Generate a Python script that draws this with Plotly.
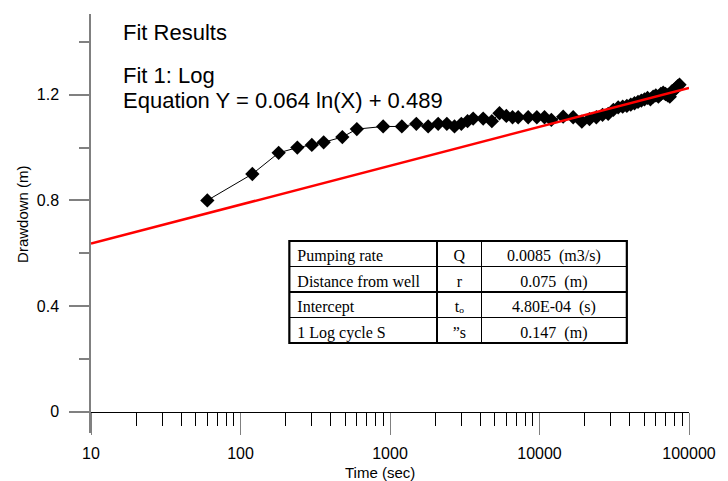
import numpy as np
import plotly.graph_objects as go

# ---------------- data ----------------
time_s = [60, 120, 180, 240, 300, 360, 480, 600, 900, 1200, 1500, 1800, 2100, 2400,
          2700, 3000, 3300, 3600, 4200, 4800, 5400, 6000, 6600, 7200, 8400, 9600,
          10800, 12000, 14400, 16800, 19200, 21600, 24000, 26400, 28800, 31200,
          33600, 36000, 38400, 40800, 43200, 45600, 48000, 50400, 52800, 55200,
          57600, 60000, 62400, 64800, 67200, 69600, 72000, 74400, 76800, 79200,
          81600, 84000, 86400]
drawdown_m = [0.80, 0.90, 0.98, 1.00, 1.01, 1.02, 1.04, 1.07, 1.08, 1.08, 1.09, 1.08,
              1.09, 1.09, 1.08, 1.09, 1.10, 1.11, 1.11, 1.10, 1.13, 1.12, 1.115, 1.115,
              1.115, 1.115, 1.115, 1.105, 1.117, 1.115, 1.098, 1.108, 1.115, 1.124,
              1.128, 1.143, 1.152, 1.155, 1.158, 1.163, 1.168, 1.173, 1.178, 1.183,
              1.188, 1.183, 1.193, 1.198, 1.193, 1.203, 1.208, 1.203, 1.198, 1.193,
              1.213, 1.218, 1.223, 1.233, 1.238]

fit_slope = 0.064       # Y = 0.064 ln(X) + 0.489
fit_intercept = 0.489
fit_xmin, fit_xmax = 10, 100000

x_major = [10, 100, 1000, 10000, 100000]
x_major_text = ["10", "100", "1000", "10000", "100000"]
y_major = [0, 0.4, 0.8, 1.2]
y_major_text = ["0", "0.4", "0.8", "1.2"]
y_minor = [0.2, 0.6, 1.0, 1.4]

table_param = ["Pumping rate", "Distance from well", "Intercept", "1 Log cycle S"]
table_symbol = ["Q", "r", "t\u2092", "\u201ds"]
table_value = ["0.0085  (m3/s)", "0.075  (m)", "4.80E-04  (s)", "0.147  (m)"]

title_lines = ["Fit Results", "Fit 1: Log", "Equation Y = 0.064 ln(X) + 0.489"]
x_title = "Time (sec)"
y_title = "Drawdown (m)"

# ---------------- figure ----------------
W, H = 728, 481
ML, MR, MT, MB = 91, 31, 14, 48
YR = [-0.081, 1.506]
SANS = "Arial, Liberation Sans, sans-serif"
SERIF = "Times New Roman, Liberation Serif, serif"

fig = go.Figure()

fig.add_trace(go.Scatter(
    x=time_s, y=drawdown_m, mode="lines+markers",
    line=dict(color="black", width=1),
    marker=dict(symbol="diamond", size=11, color="black"),
    showlegend=False, hoverinfo="skip"))

fit_x = np.logspace(np.log10(fit_xmin), np.log10(fit_xmax), 60)
fit_y = fit_slope * np.log(fit_x) + fit_intercept
fig.add_trace(go.Scatter(
    x=fit_x, y=fit_y, mode="lines",
    line=dict(color="#ff0000", width=2.5),
    showlegend=False, hoverinfo="skip"))

pw = W - ML - MR
ph = H - MT - MB
def px_x(p):
    return (p - ML) / pw
def px_y(p):
    return (H - MB - p) / ph

T_L, T_R, T_T, T_B = 292, 634, 241, 343
tfont = dict(family=SERIF, size=16, color="black")
fig.add_trace(go.Table(
    domain=dict(x=[px_x(T_L), px_x(T_R)], y=[px_y(T_B + 2), px_y(T_T)]),
    columnwidth=[150, 45, 147],
    header=dict(values=[table_param[0], table_symbol[0], table_value[0]],
                align=["left", "center", "center"], height=25.5,
                fill_color="white", line=dict(color="black", width=1.5),
                font=tfont),
    cells=dict(values=[table_param[1:], table_symbol[1:], table_value[1:]],
               align=["left", "center", "center"], height=25.5,
               fill_color="white", line=dict(color="black", width=1.5),
               font=tfont)))

fig.add_shape(type="rect", xref="paper", yref="paper",
              x0=px_x(T_L), x1=px_x(T_R), y0=px_y(T_B), y1=px_y(T_T),
              line=dict(color="black", width=2.2), fillcolor="rgba(0,0,0,0)")

x_minor = [m * d for d in x_major[:-1] for m in range(2, 10)]

fig.update_layout(
    width=W, height=H,
    margin=dict(l=ML, r=MR, t=MT, b=MB, pad=0),
    paper_bgcolor="white", plot_bgcolor="white",
    font=dict(family=SANS, size=15, color="black"),
    xaxis=dict(
        type="log", range=[1, 5], anchor="free",
        position=(0 - YR[0]) / (YR[1] - YR[0]),
        showgrid=False, zeroline=False,
        showline=True, linecolor="black", linewidth=1,
        tickmode="array", tickvals=x_major, ticktext=x_major_text,
        ticks="outside", ticklen=22, tickcolor="#808080", tickwidth=1,
        tickfont=dict(family=SANS, size=16, color="black"),
        ticklabelstandoff=5,
        minor=dict(tickmode="array", tickvals=x_minor, ticks="outside",
                   ticklen=13, tickcolor="black", tickwidth=1, showgrid=False),
    ),
    yaxis=dict(
        range=YR, showgrid=False, zeroline=False,
        showline=True, linecolor="#808080", linewidth=1.5,
        tickmode="array", tickvals=y_major, ticktext=y_major_text,
        ticks="outside", ticklen=20, tickcolor="#808080", tickwidth=1.5,
        tickfont=dict(family=SANS, size=16, color="black"),
        ticklabelstandoff=7,
        minor=dict(tickmode="array", tickvals=y_minor, ticks="outside",
                   ticklen=10, tickcolor="#808080", tickwidth=1.5, showgrid=False),
    ),
)

ann_font = dict(family=SANS, size=22, color="black")
for txt, ypx in zip(title_lines, [32, 76, 101]):
    fig.add_annotation(x=px_x(121), y=px_y(ypx), xref="paper", yref="paper",
                       text=txt, showarrow=False, xanchor="left", yanchor="middle",
                       font=ann_font)

fig.add_annotation(x=px_x(384), y=px_y(472), xref="paper", yref="paper",
                   text=x_title, showarrow=False, xanchor="center", yanchor="middle",
                   font=dict(family=SANS, size=15, color="black"))
fig.add_annotation(x=px_x(21), y=px_y(214), xref="paper", yref="paper",
                   text=y_title, showarrow=False, xanchor="center", yanchor="middle",
                   textangle=-90, font=dict(family=SANS, size=15, color="black"))

fig.write_html("out.html")
